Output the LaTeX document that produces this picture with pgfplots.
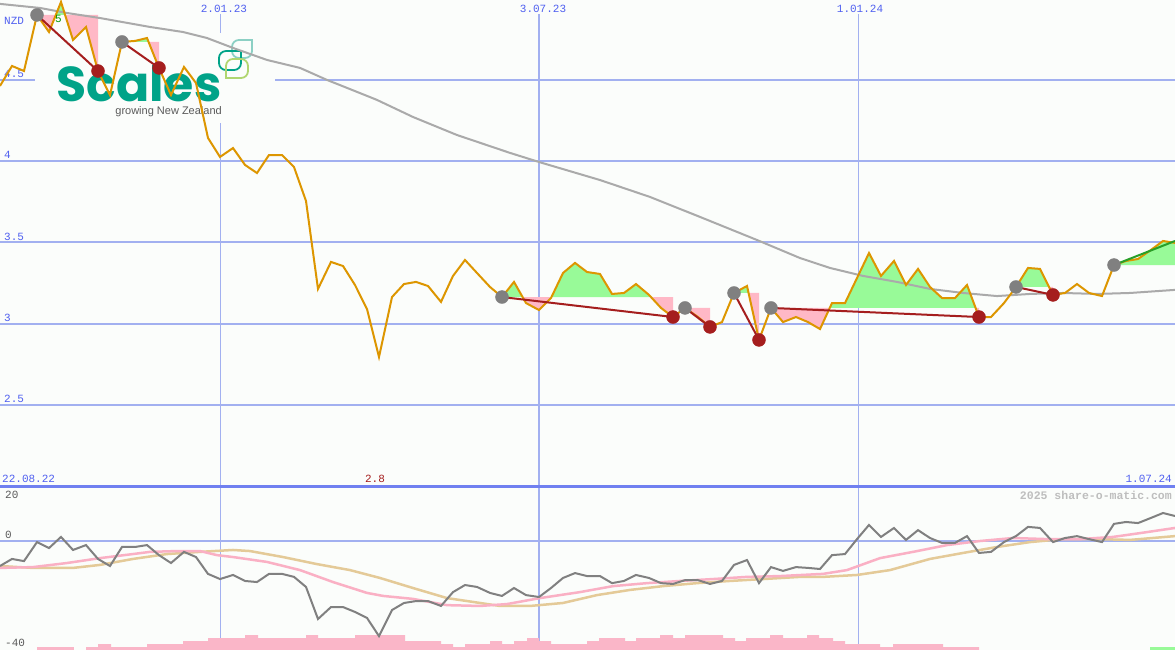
\documentclass[border=0pt]{standalone}
\usepackage{pgfplots}
\usepackage{pgfplotstable}
\pgfplotsset{compat=1.18}
\usepackage{fontspec}
\setmainfont{Liberation Sans}
\newfontfamily\mono{Liberation Mono}
\newfontfamily\logofont{Poppins}

\definecolor{bg}{RGB}{251,253,251}
\definecolor{gridc}{RGB}{162,176,240}
\definecolor{axisblue}{RGB}{112,128,240}
\definecolor{lblblue}{RGB}{80,96,240}
\definecolor{pricec}{RGB}{221,150,0}
\definecolor{mac}{RGB}{170,170,170}
\definecolor{sigred}{RGB}{165,30,30}
\definecolor{sigpink}{RGB}{255,184,198}
\definecolor{siggreen}{RGB}{152,250,152}
\definecolor{sigdot}{RGB}{128,128,128}
\definecolor{oscc}{RGB}{128,128,128}
\definecolor{mapink}{RGB}{250,176,196}
\definecolor{matan}{RGB}{228,202,152}
\definecolor{barpink}{RGB}{250,182,200}
\definecolor{logoteal}{RGB}{0,163,136}
\definecolor{leafmint}{RGB}{140,208,196}
\definecolor{leafgreen}{RGB}{176,214,112}
\definecolor{labgray}{RGB}{90,90,90}
\definecolor{copyc}{RGB}{190,190,190}
\definecolor{fivegreen}{RGB}{0,150,0}
\definecolor{trendgreen}{RGB}{40,160,40}

\pgfplotstableread{
x y
0 4.463
12 4.586
24 4.555
37 4.900
49 4.795
61 4.980
73 4.746
86 4.826
98 4.555
110 4.407
122 4.734
135 4.740
147 4.758
159 4.574
171 4.407
184 4.580
196 4.481
208 4.143
220 4.026
233 4.081
245 3.977
257 3.927
269 4.038
282 4.038
294 3.964
306 3.755
318 3.214
331 3.380
343 3.355
355 3.238
367 3.090
379 2.795
392 3.164
404 3.244
416 3.257
428 3.232
441 3.134
453 3.294
465 3.392
477 3.312
490 3.226
502 3.164
514 3.257
526 3.127
539 3.084
551 3.158
563 3.312
575 3.374
587 3.318
600 3.306
612 3.183
624 3.189
636 3.244
649 3.177
661 3.097
673 3.041
685 3.097
698 3.041
710 2.980
722 3.010
734 3.189
747 3.232
759 2.900
771 3.097
783 3.010
796 3.041
808 3.010
820 2.967
832 3.127
845 3.127
857 3.281
869 3.435
881 3.294
894 3.386
906 3.238
918 3.337
930 3.226
942 3.158
955 3.158
967 3.238
979 3.041
991 3.041
1004 3.127
1016 3.226
1028 3.343
1040 3.337
1053 3.177
1065 3.189
1077 3.244
1089 3.189
1102 3.170
1114 3.361
1126 3.386
1138 3.398
1151 3.454
1163 3.509
1175 3.497
}\pricetable

\begin{document}
\begin{tikzpicture}
\path[use as bounding box] (0,-163pt) rectangle (1175pt,487pt);
\fill[bg] (0,-163pt) rectangle (1175pt,487pt);

\begin{axis}[
  at={(0,0)}, anchor=south west,
  scale only axis, width=1175pt, height=487pt,
  xmin=0, xmax=1175, ymin=1.995, ymax=4.992,
  axis line style={draw=none},
  major tick length=0pt,
  xtick=\empty,
  ytick={2.5,3,3.5,4,4.5},
  yticklabels={2.5,3,3.5,4,4.5},
  ymajorgrids,
  grid style={gridc, line width=2pt},
  yticklabel style={anchor=south west, inner sep=0pt, xshift=4pt, yshift=2pt,
    font=\mono\fontsize{11}{12}\selectfont, text=lblblue},
  clip=false,
]
% vertical date lines
\draw[gridc, line width=1pt] (axis cs:220,4.906) -- (axis cs:220,1.995);
\draw[gridc, line width=2pt] (axis cs:539,4.906) -- (axis cs:539,1.995);
\draw[gridc, line width=1pt] (axis cs:858,4.906) -- (axis cs:858,1.995);

% logo
\fill[bg] (axis cs:35,4.789) rectangle (axis cs:275,4.235);
\node[anchor=base, inner sep=0pt, text=logoteal, font=\logofont\bfseries\fontsize{49}{49}\selectfont] at (axis cs:139,4.370) {Scales};
\node[anchor=base east, inner sep=0pt, text=labgray, font=\fontsize{11}{11}\selectfont] at (axis cs:222,4.287) {growing New Zealand};
\draw[leafmint, line width=1.8pt] (axis cs:252,4.746) -- (axis cs:239,4.746) arc[start angle=90,end angle=180,radius=7pt] -- (axis cs:232,4.678) arc[start angle=180,end angle=270,radius=7pt] -- (axis cs:245,4.635) arc[start angle=270,end angle=360,radius=7pt] -- cycle;
\draw[logoteal, line width=1.8pt] (axis cs:241,4.678) -- (axis cs:226,4.678) arc[start angle=90,end angle=180,radius=7pt] -- (axis cs:219,4.604) arc[start angle=180,end angle=270,radius=7pt] -- (axis cs:234,4.561) arc[start angle=270,end angle=360,radius=7pt] -- cycle;
\draw[leafgreen, line width=1.8pt] (axis cs:226,4.512) -- (axis cs:226,4.586) arc[start angle=180,end angle=90,radius=7pt] -- (axis cs:241,4.629) arc[start angle=90,end angle=0,radius=7pt] -- (axis cs:248,4.555) arc[start angle=0,end angle=-90,radius=7pt] -- cycle;

% signal zones
\addplot[draw=none, fill=sigpink] coordinates {(37,4.900) (49,4.795) (55.8,4.900)} -- cycle;
\addplot[draw=none, fill=siggreen] coordinates {(55.8,4.900) (61,4.980) (65.1,4.900)} -- cycle;
\addplot[draw=none, fill=sigpink] coordinates {(65.1,4.900) (73,4.746) (86,4.826) (98,4.555) (98,4.900)} -- cycle;
\addplot[draw=none, fill=siggreen] coordinates {(122,4.734) (135,4.740) (147,4.758) (148.6,4.734)} -- cycle;
\addplot[draw=none, fill=sigpink] coordinates {(148.6,4.734) (159,4.574) (159,4.734)} -- cycle;
\addplot[draw=none, fill=siggreen] coordinates {(502,3.164) (514,3.257) (522.6,3.164)} -- cycle;
\addplot[draw=none, fill=sigpink] coordinates {(522.6,3.164) (526,3.127) (539,3.084) (551,3.158) (551.5,3.164)} -- cycle;
\addplot[draw=none, fill=siggreen] coordinates {(551.5,3.164) (563,3.312) (575,3.374) (587,3.318) (600,3.306) (612,3.183) (624,3.189) (636,3.244) (649,3.177) (650.9,3.164)} -- cycle;
\addplot[draw=none, fill=sigpink] coordinates {(650.9,3.164) (661,3.097) (673,3.041) (673,3.164)} -- cycle;
\addplot[draw=none, fill=sigpink] coordinates {(685,3.097) (698,3.041) (710,2.980) (710,3.097)} -- cycle;
\addplot[draw=none, fill=siggreen] coordinates {(734,3.189) (747,3.232) (748.6,3.189)} -- cycle;
\addplot[draw=none, fill=sigpink] coordinates {(748.6,3.189) (759,2.900) (759,3.189)} -- cycle;
\addplot[draw=none, fill=sigpink] coordinates {(771,3.097) (783,3.010) (796,3.041) (808,3.010) (820,2.967) (829.7,3.097)} -- cycle;
\addplot[draw=none, fill=siggreen] coordinates {(829.7,3.097) (832,3.127) (845,3.127) (857,3.281) (869,3.435) (881,3.294) (894,3.386) (906,3.238) (918,3.337) (930,3.226) (942,3.158) (955,3.158) (967,3.238) (975.6,3.097)} -- cycle;
\addplot[draw=none, fill=sigpink] coordinates {(975.6,3.097) (979,3.041) (979,3.097)} -- cycle;
\addplot[draw=none, fill=siggreen] coordinates {(1016,3.226) (1028,3.343) (1040,3.337) (1049,3.226)} -- cycle;
\addplot[draw=none, fill=sigpink] coordinates {(1049,3.226) (1053,3.177) (1053,3.226)} -- cycle;
\addplot[draw=none, fill=siggreen] coordinates {(1114,3.361) (1126,3.386) (1138,3.398) (1151,3.454) (1163,3.509) (1175,3.497) (1175,3.361)} -- cycle;

% moving average
\addplot[mac, line width=2pt, no marks] coordinates {(0,4.968)(40,4.943)(67,4.912)(100,4.881)(150,4.826)(183,4.795)(207,4.758)(233,4.697)(267,4.623)(300,4.574)(327,4.500)(347,4.451)(377,4.377)(413,4.272)(457,4.161)(510,4.051)(539,3.995)(600,3.884)(650,3.780)(700,3.657)(757,3.515)(800,3.404)(830,3.343)(863,3.294)(897,3.257)(930,3.214)(963,3.189)(997,3.170)(1030,3.183)(1063,3.189)(1097,3.183)(1130,3.189)(1175,3.208)};

% price
\addplot[pricec, line width=2pt, no marks] table[x=x, y=y] {\pricetable};

% trend lines
\addplot[sigred, line width=2pt, no marks] coordinates {(37,4.900) (98,4.555)};
\addplot[sigred, line width=2pt, no marks] coordinates {(122,4.734) (159,4.574)};
\addplot[sigred, line width=2pt, no marks] coordinates {(502,3.164) (673,3.041)};
\addplot[sigred, line width=2pt, no marks] coordinates {(685,3.097) (710,2.980)};
\addplot[sigred, line width=2pt, no marks] coordinates {(734,3.189) (759,2.900)};
\addplot[sigred, line width=2pt, no marks] coordinates {(771,3.097) (979,3.041)};
\addplot[sigred, line width=2pt, no marks] coordinates {(1016,3.226) (1053,3.177)};
\addplot[trendgreen, line width=2pt, no marks] coordinates {(1114,3.361) (1175,3.509)};

% signal dots
\addplot[only marks, mark=*, mark size=6.5pt, sigdot, mark options={draw=sigdot, fill=sigdot}] coordinates {(37,4.900) (122,4.734) (502,3.164) (685,3.097) (734,3.189) (771,3.097) (1016,3.226) (1114,3.361)};
\addplot[only marks, mark=*, mark size=6.5pt, sigred, mark options={draw=sigred, fill=sigred}] coordinates {(98,4.555) (159,4.574) (673,3.041) (710,2.980) (759,2.900) (979,3.041) (1053,3.177)};

% labels
\node[anchor=west, inner sep=0pt, text=lblblue, font=\mono\fontsize{11}{12}\selectfont] at (axis cs:4,4.862) {NZD};
\node[anchor=west, inner sep=0pt, text=fivegreen, font=\mono\fontsize{11}{12}\selectfont] at (axis cs:55,4.875) {5};
\node[anchor=center, inner sep=0pt, text=lblblue, font=\mono\fontsize{11}{12}\selectfont] at (axis cs:224,4.937) {2.01.23};
\node[anchor=center, inner sep=0pt, text=lblblue, font=\mono\fontsize{11}{12}\selectfont] at (axis cs:543,4.937) {3.07.23};
\node[anchor=center, inner sep=0pt, text=lblblue, font=\mono\fontsize{11}{12}\selectfont] at (axis cs:860,4.937) {1.01.24};
\node[anchor=west, inner sep=0pt, text=lblblue, font=\mono\fontsize{11}{12}\selectfont] at (axis cs:2,2.044) {22.08.22};
\node[anchor=center, inner sep=0pt, text=sigred, font=\mono\fontsize{11}{12}\selectfont] at (axis cs:375,2.044) {2.8};
\node[anchor=east, inner sep=0pt, text=lblblue, font=\mono\fontsize{11}{12}\selectfont] at (axis cs:1172,2.044) {1.07.24};
\end{axis}

\begin{axis}[
  at={(0,-163pt)}, anchor=south west,
  scale only axis, width=1175pt, height=163pt,
  xmin=0, xmax=1175, ymin=-40.1, ymax=19.87,
  axis line style={draw=none},
  major tick length=0pt,
  xtick=\empty,
  ytick={0},
  yticklabels={0},
  ymajorgrids,
  grid style={gridc, line width=2pt},
  yticklabel style={anchor=south west, inner sep=0pt, xshift=5pt, yshift=2pt,
    font=\mono\fontsize{11}{12}\selectfont, text=labgray},
  clip=false,
]
\draw[gridc, line width=1pt] (axis cs:220,19.87) -- (axis cs:220,-40.1);
\draw[gridc, line width=2pt] (axis cs:539,19.87) -- (axis cs:539,-40.1);
\draw[gridc, line width=1pt] (axis cs:858,19.87) -- (axis cs:858,-40.1);

% bars
\addplot[draw=none, fill=barpink] coordinates {(37,-40.1) (37,-39.0) (74,-39.0) (74,-40.1)} -- cycle;
\addplot[draw=none, fill=barpink, const plot] coordinates {(86,-40.1) (86,-39.0) (98,-37.9) (111,-39.0) (147,-37.9) (183,-36.8) (208,-35.7) (245,-34.6) (258,-35.7) (306,-34.6) (318,-35.7) (355,-34.6) (405,-36.8) (441,-37.9) (453,-39.0) (465,-37.9) (490,-36.8) (502,-37.9) (514,-36.8) (527,-35.7) (539,-36.8) (551,-37.9) (587,-36.8) (599,-35.7) (625,-36.8) (636,-35.7) (660,-34.6) (673,-35.7) (685,-34.6) (723,-35.7) (735,-36.8) (746,-35.7) (770,-34.6) (783,-35.7) (807,-34.6) (819,-35.7) (833,-36.8) (845,-37.9) (880,-39.0) (893,-37.9) (943,-39.0) (979,-40.1)} -- cycle;
\addplot[draw=none, fill=siggreen] coordinates {(1150,-40.1) (1150,-39.0) (1175,-39.0) (1175,-40.1)} -- cycle;

% averages
\addplot[matan, line width=2.5pt, no marks] coordinates {(0,-9.2)(33,-9.9)(73,-9.9)(100,-8.8)(133,-6.6)(167,-4.8)(200,-4.0)(233,-3.3)(250,-3.7)(283,-5.9)(317,-8.5)(350,-10.7)(380,-13.6)(413,-17.3)(447,-21.0)(480,-22.8)(500,-23.9)(530,-23.9)(563,-22.8)(597,-19.9)(630,-18.0)(663,-16.6)(697,-15.5)(730,-14.7)(763,-14.0)(800,-13.2)(823,-13.2)(857,-12.5)(890,-10.7)(930,-6.6)(963,-4.4)(997,-2.2)(1030,-0.4)(1063,0.7)(1097,0.7)(1130,0.4)(1175,1.8)};
\addplot[mapink, line width=2.5pt, no marks] coordinates {(0,-9.9)(33,-9.6)(67,-8.1)(100,-6.3)(133,-4.8)(150,-4.0)(177,-3.7)(200,-3.7)(217,-5.2)(233,-5.9)(267,-7.7)(300,-10.7)(333,-15.1)(367,-19.1)(383,-20.2)(413,-21.3)(447,-23.6)(480,-23.9)(507,-23.2)(540,-21.0)(580,-18.8)(613,-16.6)(647,-15.5)(680,-14.7)(713,-14.0)(747,-13.2)(780,-12.9)(823,-12.1)(847,-10.7)(880,-6.3)(913,-4.0)(947,-1.5)(980,0)(1013,1.1)(1047,0.7)(1080,0.7)(1113,1.5)(1140,2.9)(1175,4.8)};

% oscillator
\addplot[oscc, line width=2pt, no marks] coordinates {(0,-9.2)(12,-6.6)(24,-7.4)(37,-0.4)(49,-2.6)(61,1.5)(73,-3.3)(86,-1.5)(98,-6.6)(110,-9.2)(122,-2.2)(135,-2.2)(147,-1.5)(159,-5.2)(171,-8.1)(184,-4.0)(196,-5.9)(208,-12.1)(220,-14.0)(233,-12.5)(245,-14.7)(257,-15.1)(269,-12.1)(282,-12.1)(294,-13.2)(306,-16.9)(318,-28.7)(331,-24.3)(343,-24.3)(355,-26.1)(367,-28.3)(379,-35.0)(392,-25.4)(404,-22.8)(416,-22.1)(428,-22.1)(441,-23.9)(453,-18.8)(465,-16.2)(477,-16.9)(490,-19.1)(502,-20.2)(514,-17.3)(526,-19.9)(539,-20.6)(551,-17.3)(563,-13.6)(575,-11.8)(587,-12.9)(600,-12.9)(612,-15.5)(624,-14.7)(636,-12.5)(649,-13.6)(661,-15.5)(673,-15.8)(685,-14.4)(698,-14.4)(710,-15.8)(722,-14.7)(734,-8.8)(747,-7.0)(759,-15.5)(771,-9.6)(783,-11.0)(796,-9.6)(808,-9.9)(820,-10.3)(832,-5.2)(845,-4.8)(857,0.7)(869,5.9)(881,1.5)(894,4.8)(906,0.4)(918,4.0)(930,1.1)(942,-0.7)(955,-0.7)(967,1.8)(979,-4.4)(991,-4.0)(1004,-0.4)(1016,1.8)(1028,5.2)(1040,4.8)(1053,-0.4)(1065,1.1)(1077,1.8)(1089,0.7)(1102,-0.4)(1114,6.3)(1126,7.0)(1138,6.6)(1151,8.5)(1163,10.3)(1175,9.2)};

\node[anchor=west, inner sep=0pt, text=labgray, font=\mono\fontsize{11}{12}\selectfont] at (axis cs:5,16.9) {20};
\node[anchor=west, inner sep=0pt, text=labgray, font=\mono\fontsize{11}{12}\selectfont] at (axis cs:5,-37.5) {-40};
\node[anchor=east, inner sep=0pt, text=copyc, font=\mono\bfseries\fontsize{11.5}{12}\selectfont] at (axis cs:1172,16.6) {2025 share-o-matic.com};
\end{axis}

\draw[axisblue, line width=3pt] (0,0) -- (1175pt,0);
\end{tikzpicture}
\end{document}
